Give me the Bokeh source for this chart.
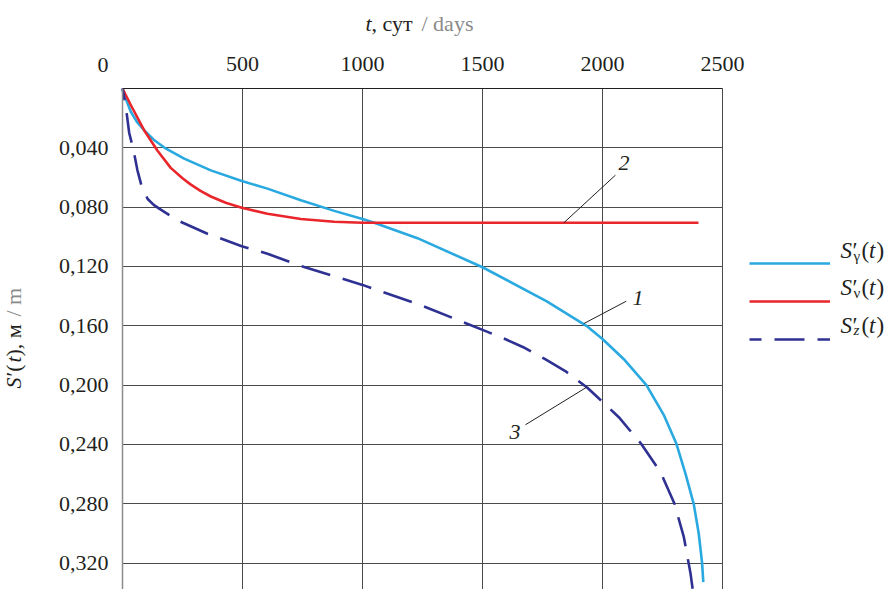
import math
from bokeh.plotting import figure
from bokeh.models import Range1d, FixedTicker, Label, Legend, LegendItem, Grid
from bokeh.core.properties import value
from bokeh.embed import file_html
from bokeh.resources import INLINE

# ---------------- data ----------------
t_gamma = [0, 15, 35, 60, 90, 130, 174, 257, 368, 497, 604, 743, 882, 1000, 1049, 1229, 1500,
           1768, 1933, 2000, 2089, 2183, 2255, 2308, 2346, 2380, 2401, 2415, 2420]
s_gamma = [0, 0.0075, 0.0158, 0.0225, 0.0281, 0.0345, 0.0398, 0.0473, 0.0552, 0.0624, 0.0675,
           0.0754, 0.0825, 0.0880, 0.0905, 0.1009, 0.1205, 0.1435, 0.1600, 0.1689, 0.1825,
           0.2000, 0.2200, 0.2395, 0.2598, 0.2800, 0.3000, 0.3200, 0.3328]

t_nu = [0, 35, 90, 146, 201, 250, 285, 325, 368, 430, 497, 604, 743, 882, 1000, 1200, 1500, 2000, 2400]
s_nu = [0, 0.0113, 0.0281, 0.0420, 0.0535, 0.0605, 0.0648, 0.0690, 0.0728, 0.0770, 0.0804,
        0.0844, 0.0880, 0.0898, 0.0905, 0.0905, 0.0905, 0.0905, 0.0905]

t_z = [0, 14, 28, 45, 62, 80, 105, 130, 153, 229, 354, 497, 604, 757, 1000, 1250, 1503,
       1594, 1670, 1761, 1845, 1936, 1999, 2068, 2161, 2242, 2300, 2339, 2367, 2376, 2380]
s_z = [0, 0.0124, 0.0300, 0.0410, 0.0550, 0.0660, 0.0745, 0.0785, 0.0810, 0.0889, 0.0979,
       0.1063, 0.1114, 0.1204, 0.1324, 0.1465, 0.1629, 0.1689, 0.1744, 0.1825, 0.1905,
       0.2016, 0.2111, 0.2216, 0.2395, 0.2587, 0.2800, 0.3025, 0.3272, 0.3378, 0.3420]

x_ticks = [0, 500, 1000, 1500, 2000, 2500]
x_tick_labels = ["0", "500", "1000", "1500", "2000", "2500"]
y_ticks = [0.04, 0.08, 0.12, 0.16, 0.20, 0.24, 0.28, 0.32]
y_tick_labels = ["0,040", "0,080", "0,120", "0,160", "0,200", "0,240", "0,280", "0,320"]

curve_numbers = ["1", "2", "3"]
number_t = [2125, 2067, 1612]
number_s = [0.1463, 0.0553, 0.2373]
leader_t0 = [1922, 1839, 1933]
leader_s0 = [0.1585, 0.0905, 0.2015]
leader_t1 = [2099, 2054, 1679]
leader_s1 = [0.1434, 0.0584, 0.2267]

# ---------------- geometry / styling ----------------
FONT = "Liberation Serif"
INK = "#231f20"
GRAY = "#8a8a8a"
GRID = "#4a4a4a"
C_GAMMA = "#29a9e0"
C_NU = "#e8262b"
C_Z = "#2e3192"
W, H = 887, 589
PX_LEFT, PX_TOP = 122, 88          # pixel of t=0 / S=0
PX_PER_T = 600 / 2500              # horizontal scale
PX_PER_S = 59.333 / 0.04           # vertical scale
T_MAX = 2500
S_BOTTOM = (H - PX_TOP) / PX_PER_S
BASE_SHIFT = 8                     # text baseline correction (px)

x_range = Range1d(-PX_LEFT / PX_PER_T, (W - PX_LEFT) / PX_PER_T)
y_range = Range1d(S_BOTTOM, -PX_TOP / PX_PER_S)

p = figure(width=W, height=H, output_backend="svg", toolbar_location=None, tools="",
           x_range=x_range, y_range=y_range, x_axis_location="above", min_border=0)
p.outline_line_color = None
p.background_fill_color = "white"
p.border_fill_color = "white"

xa = p.xaxis[0]
xa.fixed_location = 0
xa.bounds = (0, T_MAX)
xa.ticker = FixedTicker(ticks=x_ticks)
xa.major_label_overrides = {t: ("" if t == 0 else l) for t, l in zip(x_ticks, x_tick_labels)}
xa.axis_line_color = INK
xa.axis_line_width = 1
xa.major_tick_line_color = None
xa.minor_tick_line_color = None
xa.major_tick_out = 0
xa.major_tick_in = 0
xa.major_label_standoff = 18
xa.major_label_text_font = FONT
xa.major_label_text_font_size = "22px"
xa.major_label_text_color = INK

ya = p.yaxis[0]
ya.fixed_location = 0
ya.bounds = (0, S_BOTTOM)
ya.ticker = FixedTicker(ticks=y_ticks)
ya.major_label_overrides = {t: l for t, l in zip(y_ticks, y_tick_labels)}
ya.axis_line_color = "#8c8c8c"
ya.axis_line_width = 1.5
ya.major_tick_line_color = None
ya.minor_tick_line_color = None
ya.major_tick_out = 0
ya.major_tick_in = 0
ya.major_label_standoff = 14
ya.major_label_text_font = FONT
ya.major_label_text_font_size = "22px"
ya.major_label_text_color = INK

if "cross_bounds" in Grid.properties():
    p.xgrid.ticker = FixedTicker(ticks=x_ticks[1:])
    p.ygrid.ticker = FixedTicker(ticks=y_ticks)
    p.xgrid.cross_bounds = (0, S_BOTTOM)
    p.ygrid.cross_bounds = (0, T_MAX)
    for g in (p.xgrid, p.ygrid):
        g.grid_line_color = GRID
        g.grid_line_width = 1
else:
    p.xgrid.visible = False
    p.ygrid.visible = False
    gx = x_ticks[1:]
    p.segment(x0=gx, y0=[0] * len(gx), x1=gx, y1=[S_BOTTOM] * len(gx), line_color=GRID, line_width=1)
    p.segment(x0=[0] * len(y_ticks), y0=y_ticks, x1=[T_MAX] * len(y_ticks), y1=y_ticks,
              line_color=GRID, line_width=1)

# curves
r_g = p.line(t_gamma, s_gamma, line_color=C_GAMMA, line_width=2.6)
r_n = p.line(t_nu, s_nu, line_color=C_NU, line_width=2.6)
r_z = p.line(t_z, s_z, line_color=C_Z, line_width=2.6, line_dash="30 13", line_dash_offset=18)

# leaders and numbers
p.segment(x0=leader_t0, y0=leader_s0, x1=leader_t1, y1=leader_s1, line_color=INK, line_width=1)
p.text(x=number_t, y=number_s, text=curve_numbers, text_font=value(FONT), text_font_style="italic",
       text_font_size="22px", text_color=INK, text_align="left", text_baseline="alphabetic",
       y_offset=-BASE_SHIFT)

# legend (line samples only; texts added as labels)
legend = Legend(items=[LegendItem(label=value(" "), renderers=[r]) for r in (r_g, r_n, r_z)],
                location=(749, H - 349),
                glyph_width=81, glyph_height=20, label_width=0, label_height=20,
                label_standoff=0, spacing=18, padding=0, margin=0,
                border_line_color=None, background_fill_alpha=0,
                label_text_font_size="1px")
p.add_layout(legend)


def lab(px, py, text, style="normal", color=INK, size=22, align="left", angle=0.0):
    if angle:
        px = px - BASE_SHIFT
    else:
        py = py - BASE_SHIFT
    p.add_layout(Label(x=px, y=H - py, x_units="screen", y_units="screen", text=text,
                       text_font=FONT, text_font_style=style, text_font_size=f"{size}px",
                       text_color=color, text_align=align, text_baseline="alphabetic",
                       angle=angle, angle_units="rad"))

# corner tick label "0"
lab(102.5, 72, "0", align="center")

# title: t, сут / days
lab(365, 31, "t", style="italic")
lab(371, 31, ", сут")
lab(421, 31, "/ days", color=GRAY)

# y axis title: S'(t), м / m (rotated)
R = math.pi / 2
YL = 21
lab(YL, 388, "S", style="italic", angle=R)
lab(YL, 376, "′(", angle=R)
lab(YL, 362, "t", style="italic", angle=R)
lab(YL, 356, "), м", angle=R)
lab(YL, 316, "/ m", color=GRAY, angle=R)

# legend texts
for base, sub, sub_style in [(258, "γ", "normal"), (295, "ν", "normal"), (332.5, "z", "italic")]:
    lab(840, base, "S", style="italic", size=23)
    lab(852, base, "′", size=23)
    lab(853, base + 5, sub, style=sub_style, size=15)
    lab(861, base, "(", size=23)
    lab(868.5, base, "t", style="italic", size=23)
    lab(876, base, ")", size=23)

open("out.html", "w").write(file_html(p, INLINE))
